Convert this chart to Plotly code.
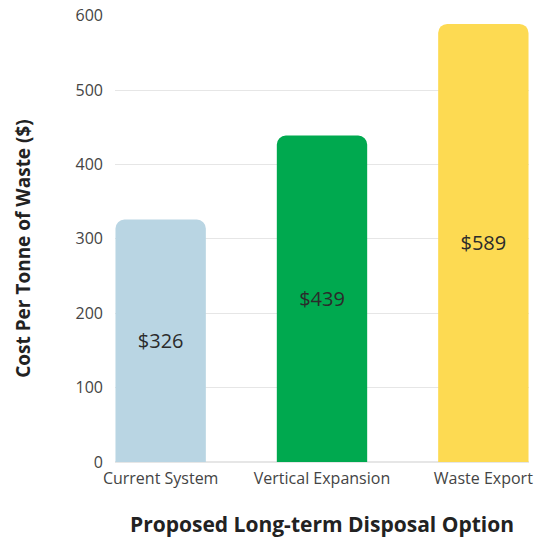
import plotly.graph_objects as go

categories = ["Current System", "Vertical Expansion", "Waste Export"]
costs = [326, 439, 589]
bar_colors = ["#b9d5e3", "#00a94f", "#fdda52"]
value_labels = ["$326", "$439", "$589"]

fig = go.Figure(
    go.Bar(
        x=list(range(len(categories))),
        y=costs,
        width=0.56,
        marker=dict(color=bar_colors, line=dict(width=0), cornerradius=9),
        text=value_labels,
        textposition="inside",
        insidetextanchor="middle",
        textfont=dict(family="Open Sans", size=20, color="#2b2b2b"),
        textangle=0,
        hoverinfo="skip",
    )
)

# vertical axis title, placed as a rotated annotation left of the tick labels
fig.add_annotation(
    text="<b>Cost Per Tonne of Waste ($)</b>",
    xref="paper",
    yref="paper",
    x=-0.221,
    y=0.478,
    xanchor="center",
    yanchor="middle",
    textangle=-90,
    showarrow=False,
    font=dict(family="Open Sans", size=19, color="#222222"),
)

fig.update_layout(
    width=543,
    height=538,
    margin=dict(l=115, r=14, t=15, b=76, autoexpand=False),
    paper_bgcolor="white",
    plot_bgcolor="white",
    showlegend=False,
    font=dict(family="Open Sans", color="#333333"),
    xaxis=dict(
        tickmode="array",
        tickvals=list(range(len(categories))),
        ticktext=categories,
        range=[-0.283, 2.283],
        showgrid=False,
        zeroline=False,
        showline=False,
        automargin=False,
        tickfont=dict(size=16, color="#444444"),
        ticklabelstandoff=5,
        title=dict(
            text="<b>Proposed Long-term Disposal Option</b>",
            font=dict(size=21, color="#222222"),
            standoff=29,
        ),
    ),
    yaxis=dict(
        range=[0, 601],
        tickvals=[0, 100, 200, 300, 400, 500, 600],
        showgrid=True,
        gridcolor="#e6e6e6",
        gridwidth=1,
        zeroline=True,
        zerolinecolor="#e6e6e6",
        showline=False,
        automargin=False,
        ticks="",
        tickfont=dict(size=16, color="#444444"),
        ticklabelstandoff=11,
    ),
)

fig.write_html("out.html")
